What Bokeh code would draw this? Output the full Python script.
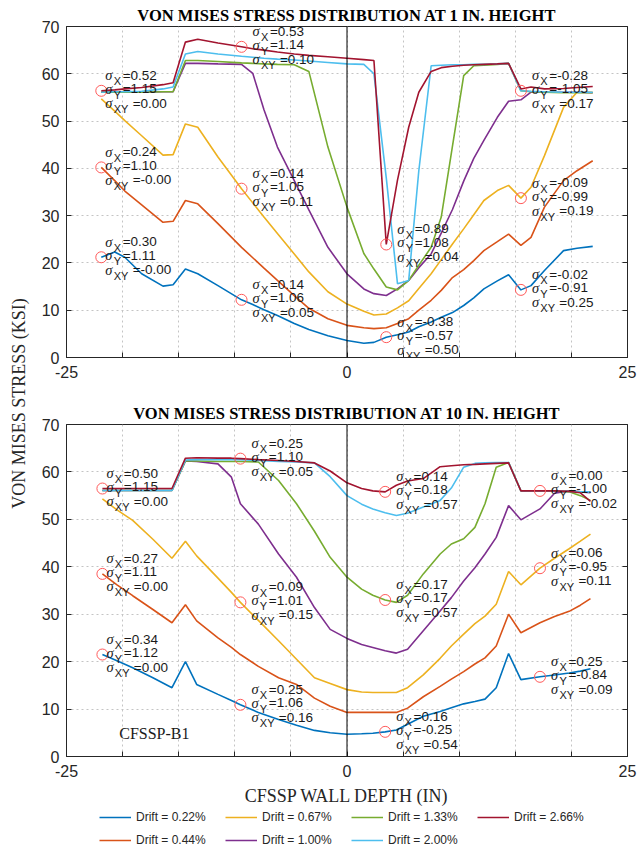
import numpy as np
from bokeh.plotting import figure
from bokeh.layouts import row, column
from bokeh.models import (ColumnDataSource, FixedTicker, LinearAxis, Span,
                          Legend, LegendItem, Range1d, Label)
from bokeh.core.properties import value
from bokeh.embed import file_html
from bokeh.resources import INLINE

# ---------------------------------------------------------------- data
drift_keys = ["0.22", "0.44", "0.67", "1.00", "1.33", "2.00", "2.66"]
drift_colors = ["#0072BD", "#D95319", "#EDB120", "#7E2F8E",
                "#77AC30", "#4DBEEE", "#A2142F"]

# wall depth stations (in) at 1 in. height
depth_h1 = [-21.9, -20.7, -19.8, -18.3, -16.4, -15.5, -14.4, -13.3, -11.5, -9.4,
            -8.4, -7.4, -6.2, -4.7, -3.4, -1.7, 0.0, 1.5, 2.4, 3.5,
            4.5, 5.5, 6.4, 7.5, 8.4, 9.4, 10.4, 11.3, 12.2, 13.4,
            14.4, 15.5, 16.4, 17.6, 19.3, 20.5, 21.9]

vm_h1_022 = [21.2, 22.3, 21.2, 17.7, 15.1, 15.4, 18.7, 17.7, 15.2, 12.2,
             11.2, 10.1, 8.9, 7.2, 5.9, 4.6, 3.6, 3.0, 3.2, 4.3,
             4.8, 5.4, 6.5, 7.5, 8.5, 9.5, 11.0, 12.6, 14.5, 16.2,
             17.5, 14.3, 15.2, 18.4, 22.6, 23.1, 23.5]
vm_h1_044 = [40.2, 37.4, 35.2, 32.3, 28.6, 28.8, 33.2, 32.5, 28.3, 23.3,
             21.1, 18.9, 16.3, 13.1, 10.4, 8.2, 6.8, 6.3, 6.1, 6.3,
             7.2, 8.2, 10.0, 12.1, 14.2, 16.9, 18.6, 20.5, 22.6, 24.5,
             26.1, 23.7, 25.4, 31.8, 37.4, 39.5, 41.6]
vm_h1_067 = [54.7, 52.1, 50.1, 46.9, 42.8, 42.9, 49.4, 48.7, 42.4, 35.7,
             32.7, 29.7, 26.2, 21.9, 18.1, 13.9, 11.3, 9.8, 9.0, 9.2,
             10.5, 12.0, 14.6, 17.7, 20.7, 24.0, 27.2, 30.2, 33.2, 35.3,
             36.4, 33.7, 36.0, 42.7, 52.9, 56.1, 56.1]
vm_h1_100 = [56.1, 56.1, 56.1, 56.1, 56.2, 56.2, 62.2, 62.2, 62.1, 62.0,
             60.1, 52.4, 44.5, 37.4, 31.2, 23.3, 17.7, 14.5, 13.5, 13.1,
             14.5, 16.3, 19.0, 21.9, 26.3, 31.3, 37.3, 42.1, 45.9, 50.8,
             54.2, 54.5, 56.1, 56.1, 56.1, 56.1, 56.0]
vm_h1_133 = [56.1, 56.1, 56.1, 56.1, 56.2, 56.2, 62.8, 62.8, 62.6, 62.3,
             62.2, 62.1, 62.0, 61.9, 60.5, 44.5, 31.8, 22.0, 18.7, 14.9,
             14.3, 16.3, 19.5, 23.3, 29.7, 44.7, 59.6, 61.7, 61.8, 62.0,
             62.2, 56.4, 56.2, 56.1, 56.0, 56.0, 56.0]
vm_h1_200 = [56.1, 56.2, 56.2, 56.3, 56.8, 57.2, 64.2, 64.7, 64.2, 63.7,
             63.5, 63.3, 63.1, 62.9, 62.7, 62.4, 62.1, 62.0, 60.0, 38.0,
             15.6, 16.3, 39.5, 61.7, 61.8, 61.9, 61.9, 62.0, 62.0, 62.1,
             62.2, 56.4, 56.3, 56.2, 56.1, 56.1, 56.1]
vm_h1_266 = [56.4, 56.6, 56.8, 57.1, 57.7, 58.1, 66.7, 67.3, 66.5, 65.7,
             65.3, 65.0, 64.6, 64.2, 63.9, 63.6, 63.3, 63.0, 62.8, 23.9,
             37.5, 48.7, 56.1, 60.5, 61.3, 61.6, 61.8, 61.9, 62.0, 62.1,
             62.2, 56.8, 57.2, 56.8, 56.9, 57.1, 57.3]

# wall depth stations (in) at 10 in. height
depth_h10 = [-21.8, -20.5, -19.1, -17.3, -15.6, -14.4, -13.4, -11.5, -10.3, -9.5,
             -7.9, -6.1, -4.5, -2.9, -1.5, 0.0, 1.3, 2.3, 3.4, 4.4,
             5.4, 6.8, 8.3, 9.3, 10.4, 11.4, 12.3, 13.3, 14.4, 15.5,
             17.2, 18.5, 19.8, 20.8, 21.7]

vm_h10_022 = [21.5, 20.2, 18.7, 16.6, 14.5, 20.0, 15.2, 13.1, 11.8, 10.9,
              9.3, 7.8, 6.6, 5.5, 5.0, 4.7, 4.8, 4.9, 5.2, 5.6,
              6.8, 8.5, 9.5, 10.3, 11.1, 11.6, 12.1, 14.5, 21.7, 16.2,
              16.8, 17.2, 17.6, 18.0, 18.5]
vm_h10_044 = [38.5, 36.2, 33.9, 31.0, 28.2, 32.0, 28.6, 25.0, 23.0, 21.5,
              19.0, 16.6, 15.2, 12.3, 10.6, 9.3, 9.3, 9.3, 9.3, 9.3,
              10.2, 12.6, 14.8, 16.3, 17.9, 19.5, 20.8, 23.3, 30.0, 26.1,
              28.2, 29.5, 30.6, 31.9, 33.3]
vm_h10_067 = [54.3, 52.0, 49.8, 45.8, 41.8, 45.4, 42.3, 37.6, 34.6, 32.5,
              28.7, 24.4, 20.5, 16.6, 15.4, 14.1, 13.6, 13.5, 13.5, 13.5,
              14.5, 17.2, 20.7, 23.3, 25.8, 28.0, 29.6, 32.1, 39.0, 36.2,
              39.7, 41.8, 43.8, 45.4, 46.9]
vm_h10_100 = [56.1, 56.1, 56.1, 56.1, 56.1, 62.3, 62.2, 61.7, 58.9, 53.3,
              49.0, 42.7, 37.8, 31.4, 26.8, 24.9, 23.6, 23.0, 22.3, 21.8,
              22.6, 26.5, 30.7, 33.5, 37.0, 39.8, 42.7, 46.2, 52.9, 49.9,
              52.2, 55.5, 56.0, 55.8, 55.6]
vm_h10_133 = [56.1, 56.1, 56.1, 56.1, 56.1, 62.3, 62.3, 62.2, 62.2, 62.2,
              62.1, 58.2, 53.3, 47.5, 42.0, 37.8, 35.3, 34.0, 33.0, 32.5,
              34.0, 38.5, 42.7, 44.8, 45.9, 48.3, 53.3, 61.0, 62.0, 56.0,
              56.0, 56.0, 55.8, 55.0, 54.0]
vm_h10_200 = [56.1, 56.1, 56.1, 56.1, 56.1, 62.5, 62.6, 62.6, 62.6, 62.6,
              62.4, 62.2, 62.1, 61.9, 59.0, 55.0, 53.2, 52.2, 51.4, 50.8,
              51.3, 52.6, 54.0, 56.6, 61.0, 61.8, 61.9, 62.0, 62.0, 56.0,
              56.0, 56.0, 55.9, 55.8, 55.8]
vm_h10_266 = [56.5, 56.5, 56.5, 56.5, 56.5, 62.9, 63.0, 62.9, 62.9, 62.8,
              62.6, 62.4, 62.2, 61.9, 60.2, 57.7, 56.5, 56.0, 55.8, 57.2,
              58.1, 58.6, 61.1, 61.3, 61.5, 61.6, 61.7, 61.8, 61.9, 56.0,
              56.0, 56.0, 55.9, 55.6, 53.8]

# stress-state call-outs: drift curve, depth, sigma_x, sigma_y, sigma_xy
note_h1_curve = ["2.66", "2.66", "2.66", "2.00", "0.44", "0.67", "0.67",
                 "0.22", "0.22", "0.22", "0.22"]
note_h1_depth = [-21.9, -9.4, 3.5, 15.5, -21.9, -9.4, 15.5, -21.9, -9.4, 3.5, 15.5]
note_h1_sx = ["0.52", "0.53", "0.89", "-0.28", "0.24", "0.14", "-0.09",
              "0.30", "0.14", "-0.38", "-0.02"]
note_h1_sy = ["1.15", "1.14", "1.08", "-1.05", "1.10", "1.05", "-0.99",
              "1.11", "1.06", "-0.57", "-0.91"]
note_h1_sxy = ["0.00", "0.10", "0.04", "0.17", "-0.00", "0.11", "0.19",
               "-0.00", "0.05", "0.50", "0.25"]

note_h10_curve = ["2.66", "2.66", "2.66", "2.66", "0.44", "0.67", "1.33", "0.67",
                  "0.22", "0.22", "0.22", "0.22"]
note_h10_depth = [-21.8, -9.5, 3.4, 17.2, -21.8, -9.5, 3.4, 17.2,
                  -21.8, -9.5, 3.4, 17.2]
note_h10_sx = ["0.50", "0.25", "0.14", "0.00", "0.27", "0.09", "0.17", "0.06",
               "0.34", "0.25", "0.16", "0.25"]
note_h10_sy = ["1.15", "1.10", "0.18", "-1.00", "1.11", "1.01", "0.17", "-0.95",
               "1.12", "1.06", "-0.25", "-0.84"]
note_h10_sxy = ["0.00", "0.05", "0.57", "-0.02", "0.00", "0.15", "0.57", "0.11",
                "0.00", "0.16", "0.54", "0.09"]

x_ticks = list(range(-25, 30, 5))
y_ticks = list(range(0, 80, 10))

curves_h1 = dict(zip(drift_keys, [vm_h1_022, vm_h1_044, vm_h1_067, vm_h1_100,
                                  vm_h1_133, vm_h1_200, vm_h1_266]))
curves_h10 = dict(zip(drift_keys, [vm_h10_022, vm_h10_044, vm_h10_067, vm_h10_100,
                                   vm_h10_133, vm_h10_200, vm_h10_266]))

INK = "#262626"
SANS = "Liberation Sans"
SERIF = "Liberation Serif"


def style_axes(p):
    for ax in p.xaxis + p.yaxis:
        ax.major_tick_in = 5
        ax.major_tick_out = 0
        ax.minor_tick_line_color = None
        ax.axis_line_color = INK
        ax.major_tick_line_color = INK
        ax.major_label_text_font = SANS
        ax.major_label_text_font_size = "16px"
        ax.major_label_text_color = INK
    p.xaxis.ticker = FixedTicker(ticks=x_ticks)
    p.xaxis.major_label_overrides = {t: (str(t) if t in (-25, 0, 25) else "")
                                     for t in x_ticks}
    p.xaxis.major_label_standoff = 8
    p.yaxis.ticker = FixedTicker(ticks=y_ticks)
    p.yaxis.major_label_standoff = 7
    # box ticks on the right side
    rax = LinearAxis(ticker=FixedTicker(ticks=y_ticks), major_tick_in=5,
                     major_tick_out=0, minor_tick_line_color=None,
                     axis_line_color=INK, major_tick_line_color=INK,
                     major_label_text_font_size="1px", major_label_text_alpha=0,
                     major_label_standoff=0)
    p.add_layout(rax, "right")
    p.grid.grid_line_color = "#c4c4c4"
    p.grid.grid_line_dash = "2 3"
    p.grid.grid_line_width = 1
    p.outline_line_color = INK


def make_panel(title, depth, curves, n_curve, n_depth, n_sx, n_sy, n_sxy,
               frame_h, top, bottom):
    p = figure(frame_width=561, frame_height=frame_h,
               x_range=Range1d(-25, 25), y_range=Range1d(0, 70),
               min_border_left=36, min_border_right=10,
               min_border_top=top, min_border_bottom=bottom,
               output_backend="svg", toolbar_location=None)
    p.title.text = title
    p.title.align = "center"
    p.title.text_font = SERIF
    p.title.text_font_size = "16.5px"
    p.title.text_font_style = "bold"
    p.title.text_color = "black"
    p.title.standoff = 3
    style_axes(p)
    p.add_layout(Span(location=0, dimension="height", line_color="black",
                      line_width=1))

    for key, col in zip(drift_keys, drift_colors):
        p.line(depth, curves[key], line_color=col, line_width=1.6)

    # call-out markers sit on their curve
    ny = [float(np.interp(x, depth, curves[c])) for c, x in zip(n_curve, n_depth)]
    p.scatter(n_depth, ny, marker="circle", size=11, fill_color=None,
              line_color="#ff5a5a", line_width=1)

    sig = dict(x=[], y=[], t=[], xo=[], yo=[])
    sub = dict(x=[], y=[], t=[], xo=[], yo=[])
    val = dict(x=[], y=[], t=[], xo=[], yo=[])
    for x, y, a, b, c in zip(n_depth, ny, n_sx, n_sy, n_sxy):
        dx = 4 if x < -20 else 11
        for dy, s, v in zip((-15.5, -2.0, 12.5), ("X", "Y", "XY"), (a, b, c)):
            for d in (sig, sub, val):
                d["x"].append(x)
                d["y"].append(y)
            sig["t"].append("σ")
            sig["xo"].append(dx)
            sig["yo"].append(dy)
            sub["t"].append(s)
            sub["xo"].append(dx + 8.4)
            sub["yo"].append(dy + 6)
            val["t"].append("=" + v)
            val["xo"].append(dx + (27.4 if s == "XY" else 17.4))
            val["yo"].append(dy)
    common = dict(x="x", y="y", text="t", x_offset="xo", y_offset="yo",
                  text_align="left", text_baseline="middle", text_color="#1a1a1a")
    p.text(source=ColumnDataSource(sig), text_font=value(SERIF),
           text_font_style="italic", text_font_size="14.5px", **common)
    p.text(source=ColumnDataSource(sub), text_font=value(SANS),
           text_font_size="11px", **common)
    p.text(source=ColumnDataSource(val), text_font=value(SANS),
           text_font_size="13.5px", **common)
    return p


p1 = make_panel("VON MISES STRESS DISTRIBUTION AT 1 IN. HEIGHT", depth_h1, curves_h1,
                note_h1_curve, note_h1_depth, note_h1_sx, note_h1_sy, note_h1_sxy,
                331, 26, 38)
p2 = make_panel("VON MISES STRESS DISTRIBUTION AT 10 IN. HEIGHT", depth_h10, curves_h10,
                note_h10_curve, note_h10_depth, note_h10_sx, note_h10_sy, note_h10_sxy,
                332, 29, 46)
p2.xaxis.axis_label = "CFSSP WALL DEPTH (IN)"
p2.xaxis.axis_label_text_font = SERIF
p2.xaxis.axis_label_text_font_size = "18px"
p2.xaxis.axis_label_text_font_style = "normal"
p2.xaxis.axis_label_text_color = INK
p2.xaxis.axis_label_standoff = 6
p2.add_layout(Label(x=-20.3, y=4.9, text="CFSSP-B1", text_font=SERIF,
                    text_font_size="16px", text_color="#1a1a1a",
                    text_baseline="middle"))

# shared vertical axis title
ylab = figure(width=30, height=849, x_range=Range1d(0, 30), y_range=Range1d(0, 849),
              min_border=0, x_axis_location=None, y_axis_location=None,
              output_backend="svg", toolbar_location=None)
ylab.outline_line_color = None
ylab.grid.visible = False
ylab.text(x=[18], y=[446], text=["VON MISES STRESS (KSI)"], angle=np.pi / 2,
          text_font=value(SERIF), text_font_size="18px", text_color=INK,
          text_align="center", text_baseline="middle")

# legend strip (its proxy lines lie outside the visible range)
leg = figure(width=607, height=47, x_range=Range1d(0, 1), y_range=Range1d(0, 1),
             min_border=0, x_axis_location=None, y_axis_location=None,
             output_backend="svg", toolbar_location=None)
leg.outline_line_color = None
leg.grid.visible = False
handles = {}
for key, col in zip(drift_keys, drift_colors):
    handles[key] = leg.line(x=[-5, -4], y=[-5, -4], line_color=col, line_width=1.6)
legend_order = ["0.22", "0.67", "1.33", "2.66", "0.44", "1.00", "2.00"]
legend = Legend(items=[LegendItem(label="Drift = %s%%" % k, renderers=[handles[k]])
                       for k in legend_order],
                orientation="horizontal", ncols=4, location=(33, 7),
                glyph_width=32, glyph_height=16, label_height=16, label_width=82,
                label_standoff=5, spacing=7, padding=0, margin=0,
                label_text_font=SANS, label_text_font_size="12px",
                label_text_color=INK, border_line_color=None,
                background_fill_alpha=0)
leg.add_layout(legend, "center")

layout = row(ylab, column(p1, p2, leg))
open("out.html", "w").write(file_html(layout, INLINE))
